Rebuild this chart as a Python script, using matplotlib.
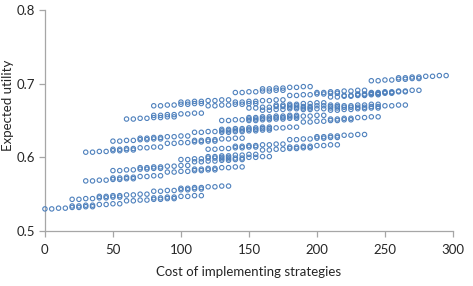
import matplotlib
matplotlib.use('Agg')
import matplotlib.pyplot as plt

# cost / expected utility of each strategy combination
cost_a = [0, 5, 10, 15, 20, 25, 30, 35,
          20, 25, 30, 35, 40, 45, 50, 55,
          60, 65, 70, 75, 80, 85, 90, 95,
          80, 85, 90, 95, 100, 105, 110, 115,
          20, 25, 30, 35, 40, 45, 50, 55,
          40, 45, 50, 55, 60, 65, 70, 75,
          80, 85, 90, 95, 100, 105, 110, 115,
          100, 105, 110, 115, 120, 125, 130, 135]
util_a = [.530, .530, .531, .531, .532, .532, .533, .533,
          .534, .534, .535, .535, .536, .536, .537, .537,
          .541, .541, .542, .542, .543, .543, .544, .544,
          .545, .545, .546, .546, .547, .547, .548, .548,
          .543, .543, .544, .544, .545, .545, .546, .546,
          .547, .547, .548, .548, .549, .549, .550, .550,
          .554, .554, .555, .555, .556, .556, .557, .557,
          .558, .558, .559, .559, .560, .560, .561, .561]

cost_b = [30, 35, 40, 45, 50, 55, 60, 65,
          50, 55, 60, 65, 70, 75, 80, 85,
          90, 95, 100, 105, 110, 115, 120, 125,
          110, 115, 120, 125, 130, 135, 140, 145,
          50, 55, 60, 65, 70, 75, 80, 85,
          70, 75, 80, 85, 90, 95, 100, 105,
          110, 115, 120, 125, 130, 135, 140, 145,
          130, 135, 140, 145, 150, 155, 160, 165]
util_b = [.568, .568, .569, .569, .570, .570, .571, .571,
          .572, .572, .573, .573, .574, .574, .575, .575,
          .580, .580, .581, .581, .582, .582, .583, .583,
          .584, .584, .585, .585, .586, .586, .587, .587,
          .582, .582, .583, .583, .584, .584, .585, .585,
          .586, .586, .587, .587, .588, .588, .589, .589,
          .594, .594, .595, .595, .596, .596, .597, .597,
          .598, .598, .599, .599, .600, .600, .601, .601]

cost_c = list(cost_b)
util_c = [.607, .607, .608, .608, .609, .609, .610, .610,
          .611, .611, .612, .612, .613, .613, .614, .614,
          .619, .619, .620, .620, .621, .621, .622, .622,
          .623, .623, .624, .624, .625, .625, .626, .626,
          .622, .622, .623, .623, .624, .624, .625, .625,
          .626, .626, .627, .627, .628, .628, .629, .629,
          .634, .634, .635, .635, .636, .636, .637, .637,
          .638, .638, .639, .639, .640, .640, .641, .641]

cost_d = [60, 65, 70, 75, 80, 85, 90, 95,
          80, 85, 90, 95, 100, 105, 110, 115,
          120, 125, 130, 135, 140, 145, 150, 155,
          140, 145, 150, 155, 160, 165, 170, 175,
          80, 85, 90, 95, 100, 105, 110, 115,
          100, 105, 110, 115, 120, 125, 130, 135,
          140, 145, 150, 155, 160, 165, 170, 175,
          160, 165, 170, 175, 180, 185, 190, 195]
util_d = [.652, .652, .653, .653, .654, .654, .655, .655,
          .657, .657, .658, .658, .659, .659, .660, .660,
          .670, .670, .671, .671, .672, .672, .673, .673,
          .675, .675, .676, .676, .677, .677, .678, .678,
          .670, .670, .671, .671, .672, .672, .673, .673,
          .675, .675, .676, .676, .677, .677, .678, .678,
          .688, .688, .689, .689, .690, .690, .691, .691,
          .693, .693, .694, .694, .695, .695, .696, .696]

cost_f = [100, 105, 110, 115, 120, 125, 130, 135,
          120, 125, 130, 135, 140, 145, 150, 155,
          160, 165, 170, 175, 180, 185, 190, 195,
          180, 185, 190, 195, 200, 205, 210, 215,
          120, 125, 130, 135, 140, 145, 150, 155,
          140, 145, 150, 155, 160, 165, 170, 175,
          180, 185, 190, 195, 200, 205, 210, 215,
          200, 205, 210, 215, 220, 225, 230, 235]
util_f = [.597, .597, .598, .598, .599, .599, .600, .600,
          .601, .601, .602, .602, .603, .603, .604, .604,
          .610, .610, .611, .611, .612, .612, .613, .613,
          .614, .614, .615, .615, .616, .616, .617, .617,
          .611, .611, .612, .612, .613, .613, .614, .614,
          .615, .615, .616, .616, .617, .617, .618, .618,
          .624, .624, .625, .625, .626, .626, .627, .627,
          .628, .628, .629, .629, .630, .630, .631, .631]

cost_bf = [130, 135, 140, 145, 150, 155, 160, 165,
           150, 155, 160, 165, 170, 175, 180, 185,
           190, 195, 200, 205, 210, 215, 220, 225,
           210, 215, 220, 225, 230, 235, 240, 245,
           150, 155, 160, 165, 170, 175, 180, 185,
           170, 175, 180, 185, 190, 195, 200, 205,
           210, 215, 220, 225, 230, 235, 240, 245,
           230, 235, 240, 245, 250, 255, 260, 265]
util_bf = [.634, .634, .635, .635, .636, .636, .637, .637,
           .638, .638, .639, .639, .640, .640, .641, .641,
           .648, .648, .649, .649, .650, .650, .651, .651,
           .652, .652, .653, .653, .654, .654, .655, .655,
           .650, .650, .651, .651, .652, .652, .653, .653,
           .654, .654, .655, .655, .656, .656, .657, .657,
           .664, .664, .665, .665, .666, .666, .667, .667,
           .668, .668, .669, .669, .670, .670, .671, .671]

cost_cf = list(cost_bf)
util_cf = [.650, .650, .651, .651, .652, .652, .653, .653,
           .654, .654, .655, .655, .656, .656, .657, .657,
           .665, .665, .666, .666, .667, .667, .668, .668,
           .669, .669, .670, .670, .671, .671, .672, .672,
           .667, .667, .668, .668, .669, .669, .670, .670,
           .671, .671, .672, .672, .673, .673, .674, .674,
           .682, .682, .683, .683, .684, .684, .685, .685,
           .686, .686, .687, .687, .688, .688, .689, .689]

cost_df = [160, 165, 170, 175, 180, 185, 190, 195,
           180, 185, 190, 195, 200, 205, 210, 215,
           220, 225, 230, 235, 240, 245, 250, 255,
           240, 245, 250, 255, 260, 265, 270, 275,
           180, 185, 190, 195, 200, 205, 210, 215,
           200, 205, 210, 215, 220, 225, 230, 235,
           240, 245, 250, 255, 260, 265, 270, 275,
           260, 265, 270, 275, 280, 285, 290, 295]
util_df = [.664, .664, .665, .665, .666, .666, .667, .667,
           .668, .668, .669, .669, .670, .670, .671, .671,
           .684, .684, .685, .685, .686, .686, .687, .687,
           .688, .688, .689, .689, .690, .690, .691, .691,
           .684, .684, .685, .685, .686, .686, .687, .687,
           .688, .688, .689, .689, .690, .690, .691, .691,
           .704, .704, .705, .705, .706, .706, .707, .707,
           .708, .708, .709, .709, .710, .710, .711, .711]

x_ticks = [0, 50, 100, 150, 200, 250, 300]
y_ticks = [0.5, 0.6, 0.7, 0.8]

costs = cost_a + cost_b + cost_c + cost_d + cost_f + cost_bf + cost_cf + cost_df
utils = util_a + util_b + util_c + util_d + util_f + util_bf + util_cf + util_df

plt.rcParams['font.family'] = ['Lato', 'DejaVu Sans']

fig = plt.figure(figsize=(4.73, 2.86), dpi=100)
ax = fig.add_axes([0.095, 0.1923, 0.8626, 0.7727])

ax.scatter(costs, utils, s=10, facecolors='none', edgecolors='#4F81BD',
           linewidths=0.8, zorder=3, clip_on=False)

ax.set_xlim(0, 300)
ax.set_ylim(0.5, 0.8)
ax.set_xticks(x_ticks)
ax.set_yticks(y_ticks)
ax.set_xticklabels([str(t) for t in x_ticks])
ax.set_yticklabels(['%.1f' % t for t in y_ticks])

for side in ['top', 'right']:
    ax.spines[side].set_visible(False)
for side in ['left', 'bottom']:
    ax.spines[side].set_color('#A6A6A6')
    ax.spines[side].set_linewidth(0.9)
ax.tick_params(axis='both', direction='out', length=4, width=0.9, color='#A6A6A6',
               labelsize=9.5, labelcolor='#262626')
ax.tick_params(axis='x', pad=5)
ax.tick_params(axis='y', pad=3)

ax.set_xlabel('Cost of implementing strategies', fontsize=9.5, color='#262626')
ax.set_ylabel('Expected utility', fontsize=9.5, color='#262626')
ax.xaxis.set_label_coords(0.5, -0.16)
ax.yaxis.set_label_coords(-0.076, 0.57)

fig.savefig('out.png', dpi=100)
